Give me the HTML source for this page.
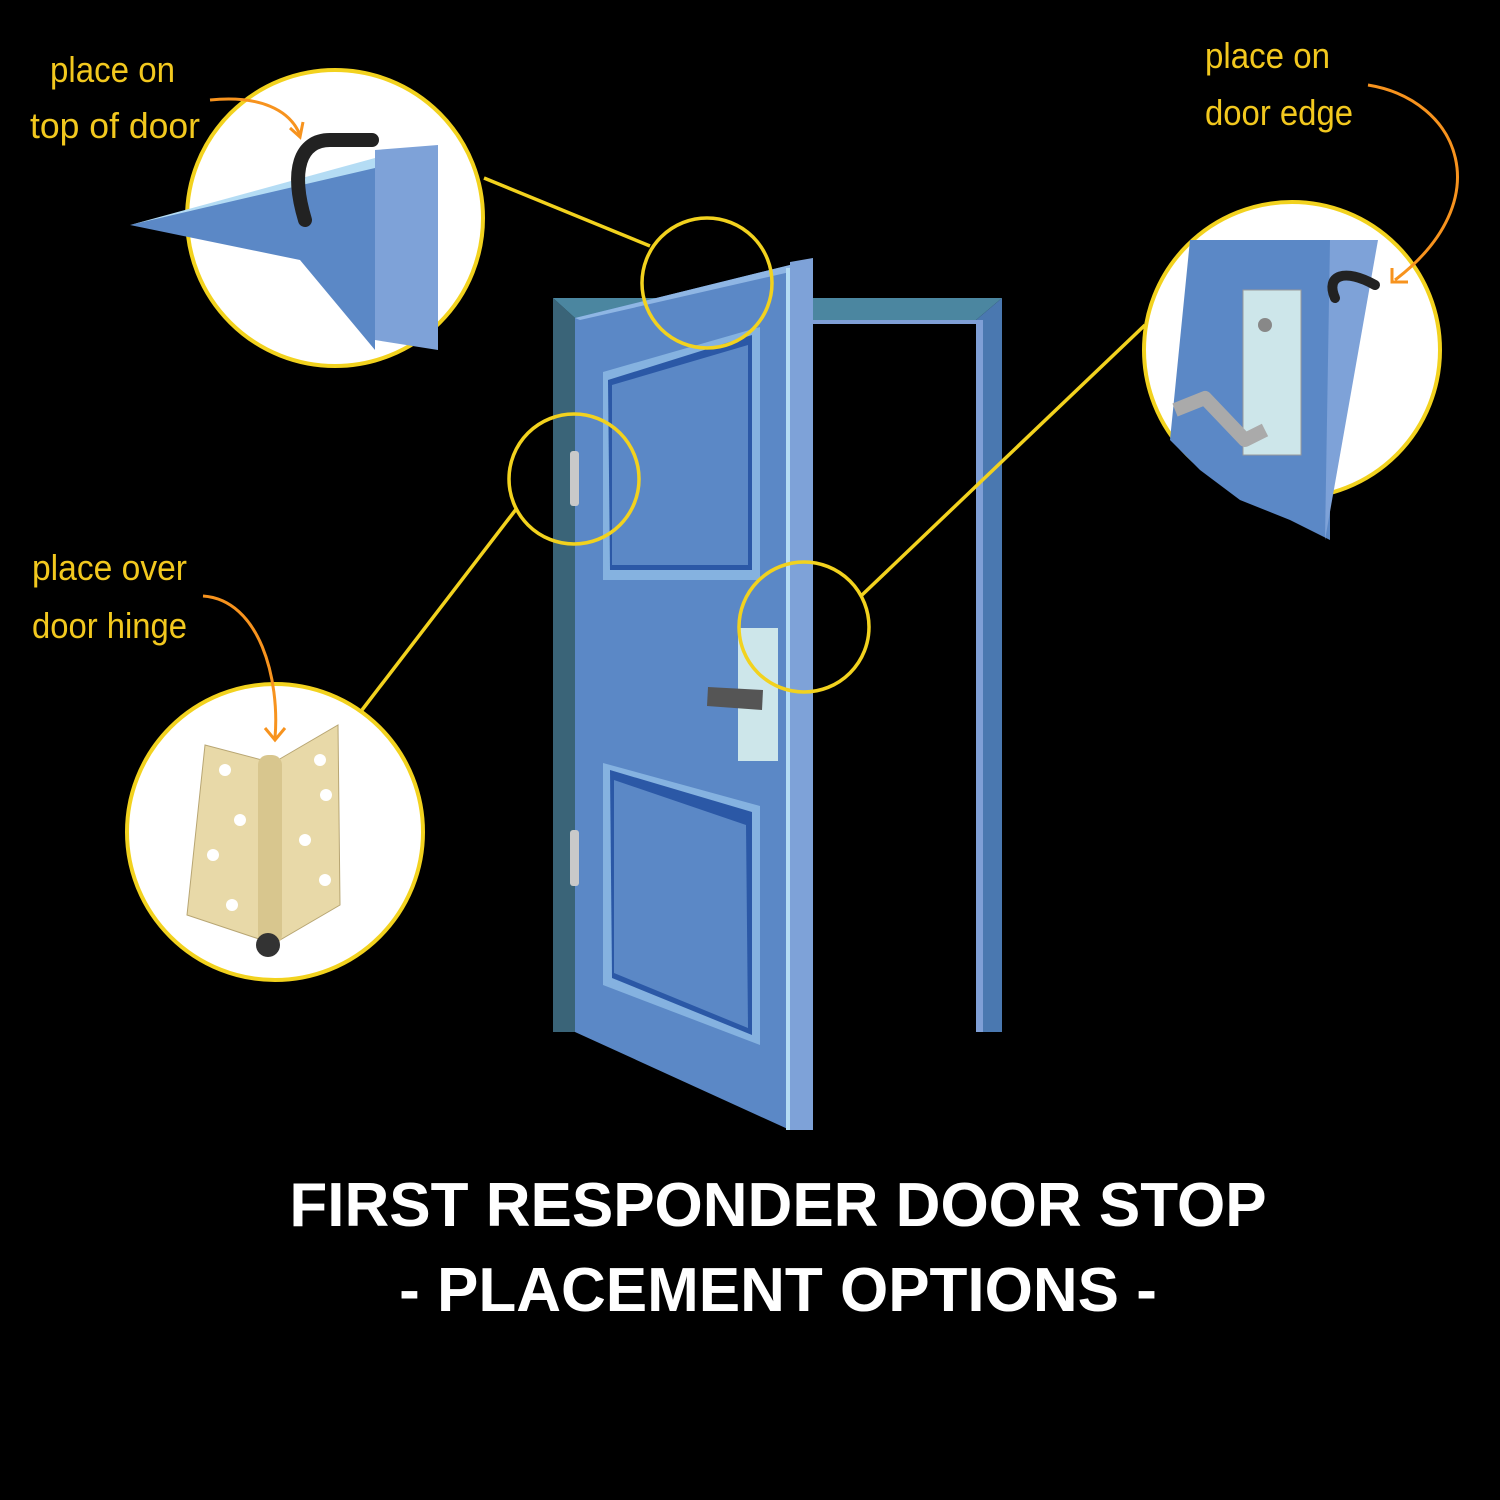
<!DOCTYPE html>
<html><head><style>html,body{margin:0;padding:0;background:#000}svg{display:block}</style></head>
<body>
<svg width="1500" height="1500" viewBox="0 0 1500 1500" xmlns="http://www.w3.org/2000/svg">
<rect width="1500" height="1500" fill="#000"/>
<!-- frame -->
<polygon points="553,298 575,318 575,1032 553,1032" fill="#3a6478"/>
<polygon points="553,298 813,298 813,318 575,318" fill="#4b86a0"/>
<polygon points="813,298 1002,298 976,320 813,320" fill="#4b86a0"/>
<rect x="813" y="320" width="170" height="4" fill="#7f9fd6"/>
<polygon points="976,320 1002,298 1002,1032 976,1032" fill="#4a78b0"/>
<rect x="976" y="320" width="7" height="712" fill="#7f9fd6"/>
<!-- door leaf -->
<polygon points="575,318 790,265 790,1130 575,1032" fill="#5b88c6"/>
<polygon points="575,318 790,265 790,272 580,320" fill="#8fb6e4"/>
<rect x="786" y="268" width="6" height="862" fill="#b4dcf4"/>
<polygon points="790,262 813,258 813,1130 790,1130" fill="#7ea2d8"/>
<!-- upper panel -->
<polygon points="603,372 760,327 760,580 603,580" fill="#85b2e0"/>
<polygon points="608,380 752,335 752,570 610,570" fill="#2b58a6"/>
<polygon points="612,385 748,345 748,565 612,565" fill="#5b88c6"/>
<!-- lower panel -->
<polygon points="603,763 760,806 760,1045 603,985" fill="#85b2e0"/>
<polygon points="610,770 752,812 752,1035 612,978" fill="#2b58a6"/>
<polygon points="614,780 746,825 748,1028 614,973" fill="#5b88c6"/>
<!-- hinges -->
<rect x="570" y="451" width="9" height="55" rx="3" fill="#c9c9c9"/>
<rect x="570" y="830" width="9" height="56" rx="3" fill="#c9c9c9"/>
<!-- lock -->
<rect x="738" y="628" width="40" height="133" fill="#cde6ea"/>
<polygon points="708,687 763,690 762,710 707,706" fill="#555"/>
<!-- small circles & lines -->
<g fill="none" stroke="#f2d21e" stroke-width="3.5">
<circle cx="707" cy="283" r="65"/>
<circle cx="574" cy="479" r="65"/>
<circle cx="804" cy="627" r="65"/>
<line x1="484" y1="178" x2="650" y2="246"/>
<line x1="517" y1="508" x2="362" y2="710"/>
<line x1="862" y1="595" x2="1145" y2="325"/>
</g>
<!-- detail circles -->
<circle cx="335" cy="218" r="148" fill="#fff" stroke="#f2d21e" stroke-width="4"/>
<circle cx="1292" cy="350" r="148" fill="#fff" stroke="#f2d21e" stroke-width="4"/>
<circle cx="275" cy="832" r="148" fill="#fff" stroke="#f2d21e" stroke-width="4"/>
<!-- top of door detail -->
<polygon points="130,225 375,165 375,350 300,260" fill="#5b88c6"/>
<polygon points="130,225 375,158 375,168" fill="#b4dcf4"/>
<polygon points="375,150 438,145 438,350 375,340" fill="#7ea2d8"/>
<path d="M305,220 C290,170 300,140 330,140 L372,140" fill="none" stroke="#222" stroke-width="14" stroke-linecap="round"/>
<!-- door edge detail -->
<polygon points="1190,240 1330,240 1330,540 1290,520 1240,500 1200,470 1170,440" fill="#5b88c6"/>
<polygon points="1330,240 1378,240 1325,540" fill="#7ea2d8"/>
<rect x="1243" y="290" width="58" height="165" fill="#cde6ea" stroke="#999"/>
<path d="M1175,410 L1205,398 L1245,440 L1265,430" fill="none" stroke="#aaa" stroke-width="14" stroke-linejoin="round"/>
<circle cx="1265" cy="325" r="7" fill="#888"/>
<path d="M1335,298 C1325,275 1345,268 1375,285" fill="none" stroke="#222" stroke-width="10" stroke-linecap="round"/>
<!-- hinge detail -->
<polygon points="205,745 262,760 262,940 187,915" fill="#e8d9a8" stroke="#b8a673"/>
<polygon points="278,760 338,725 340,905 280,940" fill="#e8d9a8" stroke="#b8a673"/>
<rect x="258" y="755" width="24" height="190" rx="10" fill="#d8c68e"/>
<circle cx="268" cy="945" r="12" fill="#333"/>
<g fill="#fff"><circle cx="225" cy="770" r="6"/><circle cx="240" cy="820" r="6"/><circle cx="213" cy="855" r="6"/><circle cx="232" cy="905" r="6"/><circle cx="320" cy="760" r="6"/><circle cx="326" cy="795" r="6"/><circle cx="305" cy="840" r="6"/><circle cx="325" cy="880" r="6"/></g>
<!-- labels -->
<g font-family="'Liberation Sans Narrow','Liberation Sans',sans-serif" fill="#f2c81e" font-size="36" lengthAdjust="spacingAndGlyphs">
<text x="50" y="82" textLength="125" lengthAdjust="spacingAndGlyphs">place on</text>
<text x="30" y="138" textLength="170" lengthAdjust="spacingAndGlyphs">top of door</text>
<text x="1205" y="68" textLength="125" lengthAdjust="spacingAndGlyphs">place on</text>
<text x="1205" y="125" textLength="148" lengthAdjust="spacingAndGlyphs">door edge</text>
<text x="32" y="580" textLength="155" lengthAdjust="spacingAndGlyphs">place over</text>
<text x="32" y="638" textLength="155" lengthAdjust="spacingAndGlyphs">door hinge</text>
</g>
<g fill="none" stroke="#f7931e" stroke-width="3">
<path d="M210,100 C260,95 290,110 300,135"/><path d="M290,128 L300,137 L303,122"/>
<path d="M1368,85 C1460,100 1500,200 1395,280"/><path d="M1392,268 L1392,282 L1408,282"/>
<path d="M203,596 C260,600 280,680 275,738"/><path d="M265,728 L275,740 L285,728"/>
</g>
<!-- title -->
<g font-family="'Liberation Sans',sans-serif" font-weight="bold" fill="#fff" font-size="62" text-anchor="middle">
<text x="778" y="1226">FIRST RESPONDER DOOR STOP</text>
<text x="778" y="1311">- PLACEMENT OPTIONS -</text>
</g>
</svg>
</body></html>
